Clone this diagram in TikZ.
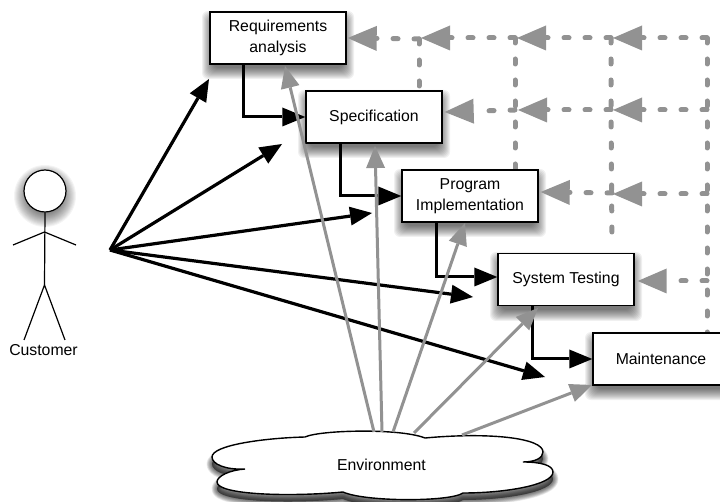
\documentclass[tikz,border=0pt]{standalone}
\usepackage{fontspec}
\setmainfont{Liberation Sans}
\usetikzlibrary{arrows.meta}
\definecolor{arrowgray}{HTML}{929292}
\tikzset{
  box/.style={draw=black,fill=white,line width=1.4pt,minimum width=136pt,minimum height=52pt,align=center,inner sep=0pt,font=\fontsize{15.8}{21}\selectfont},
  flow/.style={draw=black,line width=3pt,-{Triangle[length=23pt,width=19pt,line width=0pt]}},
  cust/.style={draw=black,line width=3.2pt,-{Triangle[length=22pt,width=19pt,line width=0pt]}},
  env/.style={draw=arrowgray,line width=3pt,-{Triangle[length=22pt,width=19pt,line width=0pt]}},
  fb/.style={draw=arrowgray,line width=5pt,line cap=round,dash pattern=on 5pt off 16pt},
  fbtip/.style={fb,-{Triangle[length=29pt,width=25pt,line width=0pt]}},
  stick/.style={draw=black,line width=1.2pt},
  lbl/.style={font=\fontsize{15.8}{19}\selectfont,inner sep=0pt}
}
\newcommand{\softshadow}[4]{%
  \foreach \i in {0,...,11}{
    \fill[black,opacity=0.06,rounded corners=6pt] ({#1-8+\i},{#2-1+\i}) rectangle ({#3+8-\i},{#4+15-\i});
  }}
\newcommand{\cloudpath}{(245,469) .. controls (225,470) and (212,464) .. (212,457)
  .. controls (212,445) and (265,438) .. (305,437)
  .. controls (320,430) and (400,428) .. (425,438)
  .. controls (490,432) and (543,438) .. (543,452)
  .. controls (543,458) and (535,462) .. (523,462)
  .. controls (540,462) and (553,465) .. (553,472)
  .. controls (553,485) and (505,493) .. (463,493)
  .. controls (450,502) and (365,502) .. (343,492)
  .. controls (290,497) and (217,495) .. (217,482)
  .. controls (217,476) and (230,470) .. (245,469) -- cycle}
\begin{document}
\begin{tikzpicture}[x=1pt,y=-1pt]
\useasboundingbox (0,0) rectangle (720,502);
\clip (0,0) rectangle (720,502);
\softshadow{210}{12}{346}{64}
\softshadow{306}{91}{442}{143}
\softshadow{402}{170}{538}{222}
\softshadow{498}{253}{634}{306}
\softshadow{593}{333}{732}{385}
% cloud shadow
\foreach \i in {0,...,9}{
  \begin{scope}[shift={(0,7)}]
  \path[fill=black,draw=black,opacity=0.07,line join=round,line width={(10-\i)*1.1pt}] \cloudpath;
  \end{scope}
}
% feedback grid junctions
\coordinate (t1) at (707,38);
\coordinate (t2) at (611,38);
\coordinate (t3) at (515,38);
\coordinate (t4) at (419,39);
\coordinate (m1) at (707,110);
\coordinate (m2) at (611,110);
\coordinate (m3) at (515,110);
\coordinate (l1) at (707,194);
\coordinate (l2) at (612,193);
\coordinate (n1) at (707,281);
\coordinate (b1) at (707,333);
\coordinate (c2end) at (612,245);
\coordinate (c3end) at (515,170);
\coordinate (c4end) at (419,93);
\coordinate (h2) at (613,38);
\coordinate (h3) at (517,38);
\coordinate (h4) at (421,38);
\coordinate (k2) at (613,110);
\coordinate (k3) at (518,110);
\coordinate (g2) at (613,194);
\node[box] (req) at (278,38) {Requirements\\analysis};
\draw[fb] (t1) -- (b1);
\draw[fb] (t2) -- (m2) -- (c2end);
\draw[fb] (t3) -- (c3end);
\node[box] (prog) at (470,196) {Program\\Implementation};
\draw[fb] (t4) -- (c4end);
\draw[fbtip] (t1) -- (h2);
\draw[fbtip] (t2) -- (h3);
\draw[fbtip] (t3) -- (h4);
\draw[fbtip] (t4) -- ([xshift=1pt]req.east);
\draw[fbtip] (m1) -- (k2);
\draw[fbtip] (m2) -- (k3);
\node[box] (spec) at (374,117) {Specification};
\draw[fbtip] (m3) -- ([xshift=2pt,yshift=5pt]spec.east);
\draw[fbtip] (l1) -- (g2);
\draw[fbtip] (l2) -- ([xshift=2pt,yshift=4pt]prog.east);
\node[box] (sys) at (566,279.5) {System Testing};
\draw[fbtip] (n1) -- ([xshift=3pt,yshift=-1.5pt]sys.east);
\node[box] (main) at (661,359) {Maintenance};
% customer arrows
\coordinate (hub) at (110,250);
\draw[cust] (hub) -- (209,79);
\draw[cust] (hub) -- (282,144);
\draw[cust] (hub) -- (372,213);
\draw[cust] (hub) -- (473,297);
\draw[cust] (hub) -- (545,377);
% flow
\draw[flow] ([xshift=-35pt]req.south) |- (spec.west);
\draw[flow] ([xshift=-34pt]spec.south) |- (prog.west);
\draw[flow] ([xshift=-34pt]prog.south) |- ([yshift=2.5pt]sys.west);
\draw[flow] ([xshift=-34pt]sys.south) |- (main.west);
% cloud
\path[fill=white,draw=black,line width=1.4pt] \cloudpath;
\node[lbl] (envlabel) at (381.5,465) {Environment};
% environment arrows
\coordinate (e1) at (374,432);
\coordinate (e2) at (382,432);
\coordinate (e3) at (393,432);
\coordinate (e4) at (414,433);
\coordinate (e5) at (462,435);
\draw[env] (e1) -- (285,66);
\draw[env] (e2) -- (375,146);
\draw[env] (e3) -- (465,223);
\draw[env] (e4) -- (538,308);
\draw[env] (e5) -- (592,385);
% stick figure
\foreach \i in {0,...,13}{
  \fill[black,opacity=0.045] (45,196) circle ({31-\i*1.0});
}
\node[draw=black,fill=white,circle,line width=1.2pt,minimum size=42pt,inner sep=0pt] (head) at (45,191) {};
\coordinate (neck) at (44.5,232);
\coordinate (hip) at (44.5,285);
\coordinate (handl) at (13,245);
\coordinate (handr) at (76,245);
\coordinate (footl) at (24,340);
\coordinate (footr) at (65,340);
\draw[stick] (head.south) -- (hip);
\draw[stick] (handl) -- (neck) -- (handr);
\draw[stick] (footl) -- (hip) -- (footr);
\node[lbl] (cust) at (43.5,350) {Customer};
\end{tikzpicture}
\end{document}
